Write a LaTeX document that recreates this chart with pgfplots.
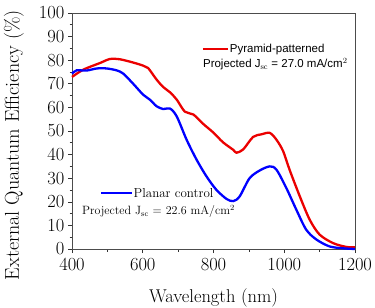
\documentclass[border=0pt]{standalone}
\usepackage{fontspec}
\newfontfamily\arial{Liberation Sans}
\usepackage{pgfplots}
\pgfplotsset{compat=1.18}
\begin{document}
\begin{tikzpicture}
\begin{axis}[
  name=ax,
  scale only axis=true,
  width=283pt, height=236pt,
  xmin=400, xmax=1200, ymin=0, ymax=100,
  xtick={400,600,800,1000,1200},
  ytick={0,10,...,100},
  minor x tick num=1, minor y tick num=1,
  tick align=outside,
  xtick pos=bottom, ytick pos=left,
  major tick length=4pt, minor tick length=2.5pt,
  axis line style={black!70, line width=0.6pt},
  tick style={black!80, line width=0.6pt},
  /pgf/number format/assume math mode=true,
  /pgf/number format/1000 sep={},
  tick label style={font=\fontsize{18.5}{20}\selectfont},
  xticklabel style={yshift=-2pt},
  xlabel={Wavelength (nm)},
  ylabel={External Quantum Efficiency (\%)},
  xlabel style={font=\fontsize{18.5}{20}\selectfont, at={(axis description cs:0.5,-0.205)}, anchor=center},
  ylabel style={font=\fontsize{20}{22}\selectfont, at={(axis description cs:-0.205,0.44)}, anchor=center},
  clip=false,
]
\addplot[red!92!black, line width=2.3pt, smooth, tension=0.5] coordinates {
(400,72.9)(432,76)(479,78.8)(507,80.5)(535,80.4)(573,79)(601,77.7)(615,76.7)
(639,71.8)(658,68.6)(677,66.4)(696,63.3)(719,58.2)(743,57)(771,53)(799,49.4)
(827,45.2)(856,42)(865,40.8)(884,42.2)(912,47.5)(936,48.6)(959,49.2)(978,46.3)
(997,41.4)(1015,33.6)(1044,22.3)(1072,12.4)(1100,6.1)(1138,2.5)(1175,0.9)(1200,0.7)
};
\addplot[blue, line width=2.3pt, smooth, tension=0.5] coordinates {
(400,74.3)(413,75.7)(441,75.6)(470,76.5)(498,76.5)(526,75.7)(545,74.3)(573,70)
(601,65.4)(620,63.3)(639,60.5)(658,59.3)(677,59.5)(696,56.2)(724,46.3)(752,37.9)
(780,30.8)(808,25.1)(837,21.2)(856,20.3)(874,22.3)(902,30)(931,33.3)(959,35)
(978,33.6)(1006,25.8)(1034,16.7)(1062,8.2)(1091,4)(1128,1.1)(1166,0.3)(1200,0)
};
\draw[red!92!black, line width=2.3pt] (axis cs:770,84.7) -- (axis cs:841,84.7);
\node[anchor=west, inner sep=1pt, font=\arial\fontsize{11.5}{13}\selectfont] at (axis cs:843,84.7) {Pyramid-patterned};
\node[anchor=west, inner sep=0pt, font=\arial\fontsize{11.5}{13}\selectfont] at (axis cs:770,78.3) {Projected J$_{\mathrm{sc}}$ = 27.0 mA/cm$^2$};
\draw[blue, line width=2.3pt] (axis cs:482,23.7) -- (axis cs:569,23.7);
\node[anchor=west, inner sep=1pt, font=\fontsize{13}{15}\selectfont] at (axis cs:571,23.7) {Planar control};
\node[anchor=west, inner sep=0pt, font=\fontsize{12}{14}\selectfont] at (axis cs:428,15.9) {Projected J$_{\mathrm{sc}}$ = 22.6 mA/cm$^2$};
\end{axis}
\pgfresetboundingbox
\path ([xshift=-72pt,yshift=-58pt]ax.south west) rectangle ([xshift=20pt,yshift=13pt]ax.north east);
\end{tikzpicture}
\end{document}
